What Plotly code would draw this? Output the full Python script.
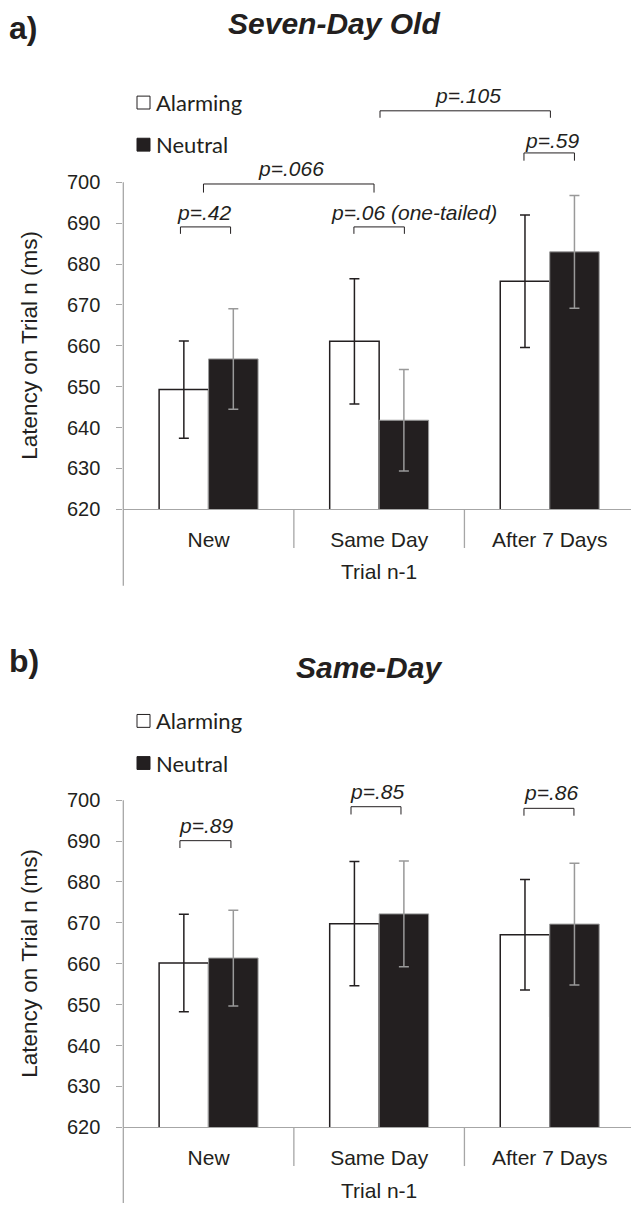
import plotly.graph_objects as go

# ---------------- data ----------------
categories = ["New", "Same Day", "After 7 Days"]
x_pos = [0, 1, 2]
y_ticks = [620, 630, 640, 650, 660, 670, 680, 690, 700]

alarm_a = [649.3, 661.1, 675.8]
alarm_a_err = [11.9, 15.3, 16.2]
neutral_a = [656.8, 641.8, 683.0]
neutral_a_err = [12.3, 12.4, 13.8]

alarm_b = [660.2, 669.8, 667.1]
alarm_b_err = [11.9, 15.2, 13.5]
neutral_b = [661.4, 672.2, 669.7]
neutral_b_err = [11.7, 12.9, 14.9]

# significance brackets: x0, x1, top, end, label, label_x, label_y
brackets_a = [
    (-0.165, 0.129, 689.1, 687.4, "p=.42", -0.027, 692.7),
    (0.852, 1.148, 689.1, 687.4, "p=.06 (one-tailed)", 1.207, 692.7),
    (-0.03, 0.97, 699.6, 697.5, "p=.066", 0.481, 703.4),
    (1.005, 2.004, 717.5, 715.8, "p=.105", 1.519, 721.2),
    (1.849, 2.145, 707.2, 705.3, "p=.59", 2.012, 710.3),
]
brackets_b = [
    (-0.168, 0.131, 690.1, 688.3, "p=.89", -0.014, 693.7),
    (0.835, 1.128, 698.4, 696.5, "p=.85", 0.989, 702.2),
    (1.849, 2.142, 698.0, 696.2, "p=.86", 2.005, 701.8),
]

# ---------------- layout helpers ----------------
W, H = 631, 1214
DARK = "#231f20"
GRAY = "#a6a6a6"
AX_FONT = "Liberation Sans, Arial, sans-serif"
LEG_FONT = "Lato, Carlito, Calibri, sans-serif"


def px(v):
    return v / W


def py(v):
    return 1 - v / H


x_left = 123.3
x_dom = [px(x_left), 1]
x_range = [-0.5, 2.5 - (635 - W) / 170.6]

panels = [
    dict(xa="x", ya="y", xaxis="xaxis", yaxis="yaxis",
         y_dom=[py(514), py(80.9)], y_range=[620, 725],
         alarm=alarm_a, alarm_err=alarm_a_err, neutral=neutral_a, neutral_err=neutral_a_err,
         brackets=brackets_a, letter="a)", letter_y=28, title="Seven-Day Old", title_x=334, title_y=24,
         leg_y=(103.5, 146), ytitle_y=349, axis_top=184, axis_bot=591, div_bot=553,
         cat_y=539, trial_y=577, bottom=514),
    dict(xa="x2", ya="y2", xaxis="xaxis2", yaxis="yaxis2",
         y_dom=[py(1137.7), py(766.2)], y_range=[620, 710],
         alarm=alarm_b, alarm_err=alarm_b_err, neutral=neutral_b, neutral_err=neutral_b_err,
         brackets=brackets_b, letter="b)", letter_y=667, title="Same-Day", title_x=369, title_y=674,
         leg_y=(727.5, 770), ytitle_y=972.6, axis_top=807.5, axis_bot=1214, div_bot=1176.7,
         cat_y=1164, trial_y=1201.7, bottom=1137.7),
]

fig = go.Figure()
shapes = []
annotations = []

for p in panels:
    fig.add_trace(go.Bar(
        x=x_pos, y=p["alarm"], xaxis=p["xa"], yaxis=p["ya"], name="Alarming",
        offsetgroup="alarm", showlegend=False,
        marker=dict(color="white", line=dict(color=DARK, width=1.5)),
        error_y=dict(type="data", array=p["alarm_err"], color=DARK, thickness=1.5, width=5),
    ))
    fig.add_trace(go.Bar(
        x=x_pos, y=p["neutral"], xaxis=p["xa"], yaxis=p["ya"], name="Neutral",
        offsetgroup="neutral", showlegend=False,
        marker=dict(color=DARK, line=dict(color="#9a9a9a", width=1)),
        error_y=dict(type="data", array=p["neutral_err"], color="#999999", thickness=1.5, width=5),
    ))

    # y axis line (extends down through category area, Excel style)
    shapes.append(dict(type="line", xref="paper", yref="paper",
                       x0=px(x_left), x1=px(x_left), y0=py(p["axis_top"]), y1=py(p["axis_bot"]),
                       line=dict(color=GRAY, width=1.3)))
    # category dividers
    for d in [0.5, 1.5]:
        shapes.append(dict(type="line", xref=p["xa"], yref="paper",
                           x0=d, x1=d, y0=py(p["bottom"]), y1=py(p["div_bot"]),
                           line=dict(color=GRAY, width=1.3)))

    # brackets
    for (x0, x1, yt, ye, lab, lx, ly) in p["brackets"]:
        shapes.append(dict(type="path", xref=p["xa"], yref=p["ya"],
                           path=f"M {x0},{ye} L {x0},{yt} L {x1},{yt} L {x1},{ye}",
                           line=dict(color=DARK, width=1)))
        annotations.append(dict(x=lx, y=ly, xref=p["xa"], yref=p["ya"], text=lab,
                                showarrow=False, xanchor="center", yanchor="middle",
                                font=dict(family=AX_FONT, size=21, color=DARK, style="italic")))

    # panel letter and title
    annotations.append(dict(x=px(7), y=py(p["letter_y"]), xref="paper", yref="paper",
                            text=f"<b>{p['letter']}</b>", showarrow=False,
                            xanchor="left", yanchor="middle",
                            font=dict(family=AX_FONT, size=32, color=DARK)))
    annotations.append(dict(x=px(p["title_x"]), y=py(p["title_y"]), xref="paper", yref="paper",
                            text=f"<b><i>{p['title']}</i></b>", showarrow=False,
                            xanchor="center", yanchor="middle",
                            font=dict(family=AX_FONT, size=30, color=DARK)))

    # legend (squares + text)
    for (ly, fill, lab) in [(p["leg_y"][0], "white", "Alarming"), (p["leg_y"][1], DARK, "Neutral")]:
        shapes.append(dict(type="rect", xref="paper", yref="paper",
                           x0=px(137), x1=px(150), y0=py(ly - 6.5), y1=py(ly + 6.5),
                           fillcolor=fill, line=dict(color=DARK, width=1)))
        annotations.append(dict(x=px(154), y=py(ly), xref="paper", yref="paper", text=lab,
                                showarrow=False, xanchor="left", yanchor="middle",
                                font=dict(family=LEG_FONT, size=22, color=DARK)))

    # y title
    annotations.append(dict(x=px(30), y=py(p["ytitle_y"]), xref="paper", yref="paper",
                            text="Latency on Trial n (ms)", textangle=-90, showarrow=False,
                            xanchor="center", yanchor="middle",
                            font=dict(family=AX_FONT, size=22.5, color=DARK)))
    # x title
    annotations.append(dict(x=px((x_left + 635) / 2), y=py(p["trial_y"]), xref="paper", yref="paper",
                            text="Trial n-1", showarrow=False, xanchor="center", yanchor="middle",
                            font=dict(family=AX_FONT, size=21, color=DARK)))

    fig.layout[p["xaxis"]] = dict(
        domain=x_dom, range=x_range, tickvals=x_pos, ticktext=categories,
        showline=True, linecolor=GRAY, linewidth=1.3, showgrid=False, zeroline=False,
        ticks="outside", ticklen=11, tickcolor="rgba(0,0,0,0)",
        tickfont=dict(family=AX_FONT, size=21, color=DARK),
        anchor=p["ya"], fixedrange=True,
    )
    fig.layout[p["yaxis"]] = dict(
        domain=p["y_dom"], range=p["y_range"], tickvals=y_ticks,
        showline=False, showgrid=False, zeroline=False,
        ticks="outside", ticklen=6, tickcolor=GRAY, tickwidth=1.3,
        ticklabelstandoff=12,
        tickfont=dict(family=AX_FONT, size=20, color=DARK),
        anchor=p["xa"], fixedrange=True,
    )

fig.update_layout(
    width=W, height=H, margin=dict(l=0, r=0, t=0, b=0),
    paper_bgcolor="white", plot_bgcolor="white",
    barmode="group", bargap=0.42, bargroupgap=0,
    shapes=shapes, annotations=annotations, showlegend=False,
)

fig.write_html("out.html")
